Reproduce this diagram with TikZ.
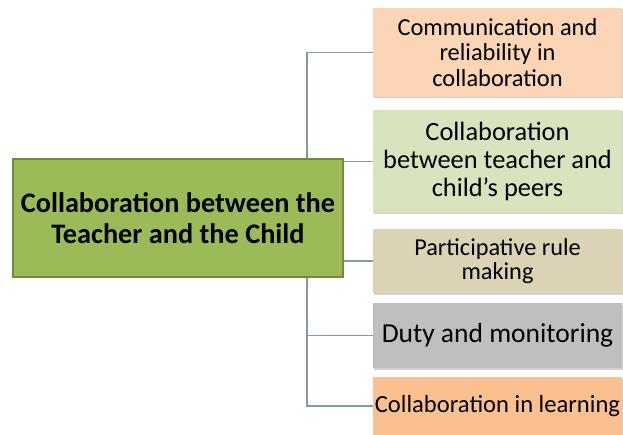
\documentclass[tikz,border=0pt]{standalone}
\usepackage{fontspec}
\setmainfont{Carlito}
\usetikzlibrary{backgrounds,shadows}
\definecolor{mainfill}{HTML}{9BBB59}
\definecolor{maindraw}{HTML}{71893F}
\definecolor{cpeach}{HTML}{FBD5B6}
\definecolor{cgreen}{HTML}{D7E4BD}
\definecolor{ctan}{HTML}{DAD3B5}
\definecolor{cgray}{HTML}{BFBFBF}
\definecolor{corange}{HTML}{FAC090}
\definecolor{cline}{HTML}{8598AA}
\tikzset{
  x=1pt,y=1pt,
  leaf/.style={rectangle, minimum width=249pt, inner sep=0pt, align=center,
    general shadow={shadow xshift=1pt, shadow yshift=-1.5pt, fill=black, opacity=0.18}},
  conn/.style={draw=cline, line width=1.3pt},
}
\begin{document}
\begin{tikzpicture}
\useasboundingbox (0,0) rectangle (623,434);
\node[rectangle, fill=mainfill, draw=maindraw, line width=1.5pt,
  minimum width=330pt, minimum height=118pt, align=center, inner sep=0pt,
  font=\fontsize{28.3}{31}\selectfont\bfseries] (main) at (178,216)
  {Collaboration between the\\Teacher and the Child};
\node[leaf, fill=cpeach, minimum height=89pt, font=\fontsize{24.4}{25.5}\selectfont] (b1) at (497.5,381.5)
  {Communication and\\reliability in\\collaboration};
\node[leaf, fill=cgreen, minimum height=103pt, font=\fontsize{26.4}{28}\selectfont] (b2) at (497.5,272.5)
  {Collaboration\\between teacher and\\child’s peers};
\node[leaf, fill=ctan, minimum height=64pt, font=\fontsize{24.3}{24}\selectfont] (b3) at (497.5,173)
  {Participative rule\\making};
\node[leaf, fill=cgray, minimum height=65pt, font=\fontsize{27.5}{29}\selectfont] (b4) at (497.5,98.5)
  {Duty and monitoring};
\node[leaf, fill=corange, minimum height=58pt, font=\fontsize{24.6}{26}\selectfont] (b5) at (497.5,28)
  {Collaboration in learning};
\coordinate (trunk) at (307,0);
\begin{scope}[on background layer]
  \draw[conn] (b1.west) -- (b1.west -| trunk) -- (b5.west -| trunk) -- (b5.west);
  \draw[conn] (b4.west) -- (b4.west -| trunk);
  \draw[conn] (main.east |- b2.west) -- (b2.west);
  \draw[conn] (main.east |- b3.west) -- (b3.west);
\end{scope}
\end{tikzpicture}
\end{document}
